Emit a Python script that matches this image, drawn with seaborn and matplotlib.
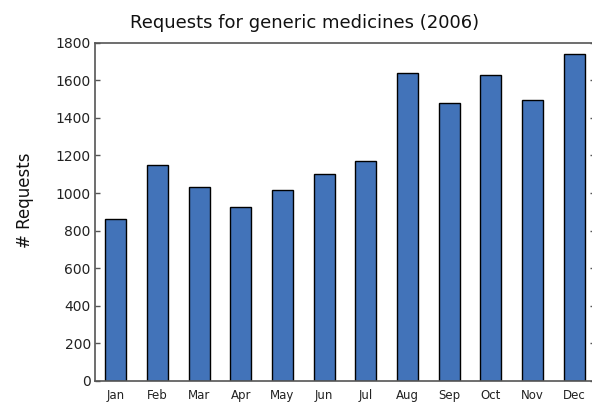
import matplotlib
matplotlib.use("Agg")
import matplotlib.pyplot as plt
import seaborn as sns
import pandas as pd

months = ["Jan", "Feb", "Mar", "Apr", "May", "Jun", "Jul", "Aug", "Sep", "Oct", "Nov", "Dec"]
requests = [862, 1148, 1032, 924, 1015, 1100, 1170, 1639, 1481, 1630, 1495, 1738]
yticks = [0, 200, 400, 600, 800, 1000, 1200, 1400, 1600, 1800]

df = pd.DataFrame({"month": months, "requests": requests})

sns.set_style("white")
plt.rcParams['font.family'] = ['DejaVu Sans']

fig = plt.figure(figsize=(5.92, 4.04), dpi=100)
ax = fig.add_axes([95 / 592, 23 / 404, 500 / 592, 338.3 / 404])

sns.barplot(data=df, x="month", y="requests", order=months, color="#4273B9",
            saturation=1, width=0.5, edgecolor="black", linewidth=1.0, ax=ax)

ax.set_xlim(-0.5, 11.5)
ax.set_ylim(0, 1800)
ax.set_yticks(yticks)
ax.set_yticklabels([str(v) for v in yticks], fontsize=10, color="#222222")
ax.set_xticks(range(len(months)))
ax.set_xticklabels(months, fontsize=8.5, color="#222222")
ax.set_xlabel("")
ax.set_ylabel("")

ax.tick_params(axis="y", direction="in", length=3.5, width=1, colors="#555555",
               labelcolor="#222222", left=True, right=True, pad=3)
ax.tick_params(axis="x", length=0, pad=6)

for s in ax.spines.values():
    s.set_visible(True)
    s.set_color("#555555")
    s.set_linewidth(1.2)

fig.text(305 / 592, 1 - 28 / 404, "Requests for generic medicines (2006)",
         ha="center", va="baseline", fontsize=13, color="#111111")
fig.text(25 / 592, 1 - 200 / 404, "# Requests", rotation=90,
         ha="center", va="center", fontsize=12, color="#111111")

fig.savefig("out.png", dpi=100)
